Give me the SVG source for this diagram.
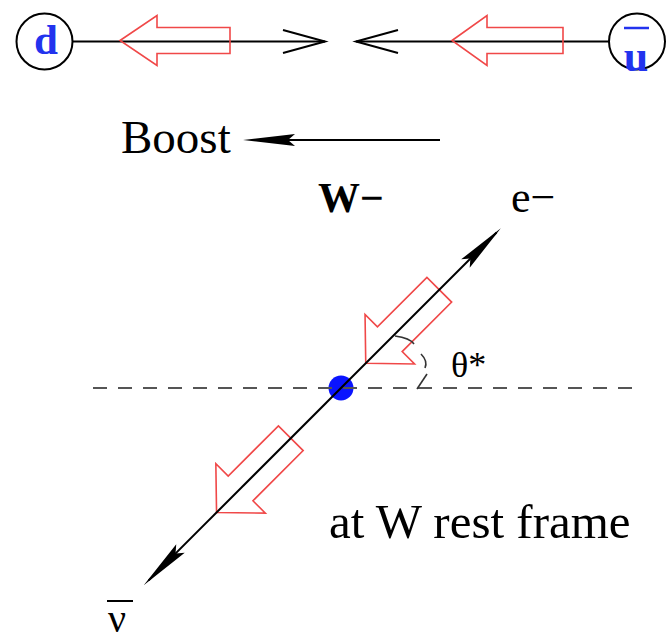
<svg xmlns="http://www.w3.org/2000/svg" width="667" height="640" viewBox="0 0 667 640">
<style>
.serif{font-family:"Liberation Serif","DejaVu Serif",serif;}
.blk{stroke:#000;stroke-width:2;fill:none}
.red{stroke:#f04848;stroke-width:1.6;fill:none;stroke-linejoin:miter}
.head{fill:#000;stroke:none}
.blue{fill:#2233ee}
.ring{fill:#fff;stroke:#000;stroke-width:2}
</style>
<rect width="667" height="640" fill="#fff"/>
<g id="node-d">
<circle cx="44.5" cy="41.5" r="28" class="ring"/>
<text x="46" y="53.5" font-size="43" font-weight="bold" class="serif blue" text-anchor="middle">d</text>
</g>
<g id="node-ubar">
<circle cx="637" cy="41.5" r="28" class="ring"/>
<line x1="624" y1="28" x2="649" y2="28" stroke="#2233ee" stroke-width="2.5"/>
<text x="636" y="71" font-size="44" font-weight="bold" class="serif blue" text-anchor="middle">u</text>
</g>
<g id="node-W">
<circle cx="341" cy="388" r="12.5" fill="#0a14ff"/>
</g>
<g id="connectors">
<line x1="72.5" y1="41.5" x2="325" y2="41.5" class="blk"/>
<polyline points="283,30 325,41.5 283,53" class="blk"/>
<line x1="356" y1="41.5" x2="609" y2="41.5" class="blk"/>
<polyline points="398,30 356,41.5 398,53" class="blk"/>
<polygon class="red" points="120,40.5 157,15.5 157,27.5 230,27.5 230,53.5 157,53.5 157,65.5"/>
<polygon class="red" points="452,40.5 487,15.5 487,27.5 563,27.5 563,53.5 487,53.5 487,65.5"/>
<line x1="280" y1="140" x2="440" y2="140" stroke="#000" stroke-width="2"/>
<polygon points="243,140 295,134 288,140 295,146" class="head"/>
<line x1="93" y1="388" x2="640" y2="388" stroke="#555" stroke-width="2" stroke-dasharray="14 11"/>
<g transform="translate(341,388) rotate(-45)">
<polygon class="red" points="35,0 69,-35 69,-17.5 139,-17.5 139,17.5 69,17.5 69,35"/>
<polygon class="red" points="-176,0 -142,-35 -142,-17.5 -71,-17.5 -71,17.5 -142,17.5 -142,35"/>
<line x1="-272" y1="0" x2="220" y2="0" stroke="#000" stroke-width="2"/>
<polygon points="226,0 176,-6 183,0 176,6" class="head"/>
<polygon points="-279,0 -227,-6 -234,0 -227,6" class="head"/>
</g>
<g fill="none" stroke="#333" stroke-width="1.6">
<path d="M395,336 Q410,338 414,344"/>
<path d="M421,354 Q428,361 425,368"/>
<path d="M427,374 L417,389"/>
</g>
</g>
<g id="labels" class="serif">
<text x="121" y="153" font-size="47">Boost</text>
<text x="318" y="212" font-size="42" font-weight="bold">W−</text>
<text x="511" y="212" font-size="44">e−</text>
<text x="451" y="377" font-size="36">θ*</text>
<text x="329" y="538" font-size="49">at W rest frame</text>
<line x1="107" y1="601" x2="133" y2="601" stroke="#000" stroke-width="2"/>
<text x="108" y="632" font-size="40">ν</text>
</g>
</svg>
